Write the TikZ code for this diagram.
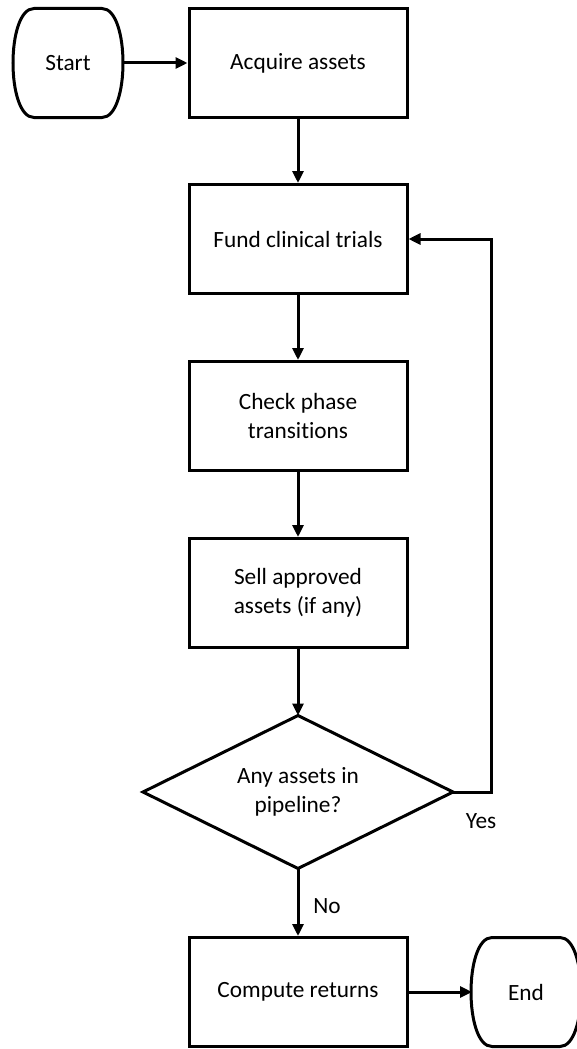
\documentclass[tikz,border=0pt]{standalone}
\usepackage{fontspec}
\setmainfont{Carlito}[Ligatures=CommonOff]
\usetikzlibrary{arrows.meta}
\begin{document}
\begin{tikzpicture}[x=1pt,y=-1pt,
  every node/.style={font=\fontsize{23.3}{28.5}\selectfont, align=center},
  procbox/.style={draw, line width=3pt, minimum width=218pt, minimum height=109pt, inner sep=0pt},
  termbox/.style={minimum width=108pt, minimum height=109pt, inner sep=0pt, outer sep=0pt},
  conn/.style={line width=3pt, -{Triangle[length=12pt,width=11pt]}},
  shapeline/.style={line width=3pt, line join=miter}
]
\useasboundingbox (0,0) rectangle (577,1049);
\node[termbox] (start) at (68,63) {Start};
\draw[shapeline] ([xshift=20pt]start.north west) -- ([xshift=-20pt]start.north east)
  .. controls ([xshift=8pt]start.north east) and ([xshift=8pt]start.south east) .. ([xshift=-20pt]start.south east)
  -- ([xshift=20pt]start.south west)
  .. controls ([xshift=-8pt]start.south west) and ([xshift=-8pt]start.north west) .. cycle;
\node[procbox] (acq) at (298,63) {Acquire assets};
\node[procbox] (fund) at (298,239) {Fund clinical trials};
\node[procbox] (check) at (298,416) {Check phase\\transitions};
\node[procbox] (sell) at (298,593) {Sell approved\\assets (if any)};
\node[minimum width=310pt, minimum height=153pt, inner sep=0pt, outer sep=0pt] (dec) at (298,792) {Any assets in\\pipeline?};
\draw[shapeline] (dec.north) -- (dec.east) -- (dec.south) -- (dec.west) -- cycle;
\node[procbox] (comp) at (298,992) {Compute returns};
\node[termbox] (end) at (526,992) {End};
\draw[shapeline] ([xshift=20pt]end.north west) -- ([xshift=-20pt]end.north east)
  .. controls ([xshift=8pt]end.north east) and ([xshift=8pt]end.south east) .. ([xshift=-20pt]end.south east)
  -- ([xshift=20pt]end.south west)
  .. controls ([xshift=-8pt]end.south west) and ([xshift=-8pt]end.north west) .. cycle;
\draw[conn] (start.east) -- (acq.west);
\draw[conn] (acq.south) -- (fund.north);
\draw[conn] (fund.south) -- (check.north);
\draw[conn] (check.south) -- (sell.north);
\draw[conn] (sell.south) -- (dec.north);
\coordinate (loop) at (491,792);
\draw[conn] (dec.east) -- (loop) |- (fund.east);
\draw[conn] (dec.south) -- (comp.north);
\draw[conn] (comp.east) -- (end.west);
\node (yes) at (481,821) {Yes};
\node (no) at (327,906) {No};
\end{tikzpicture}
\end{document}
